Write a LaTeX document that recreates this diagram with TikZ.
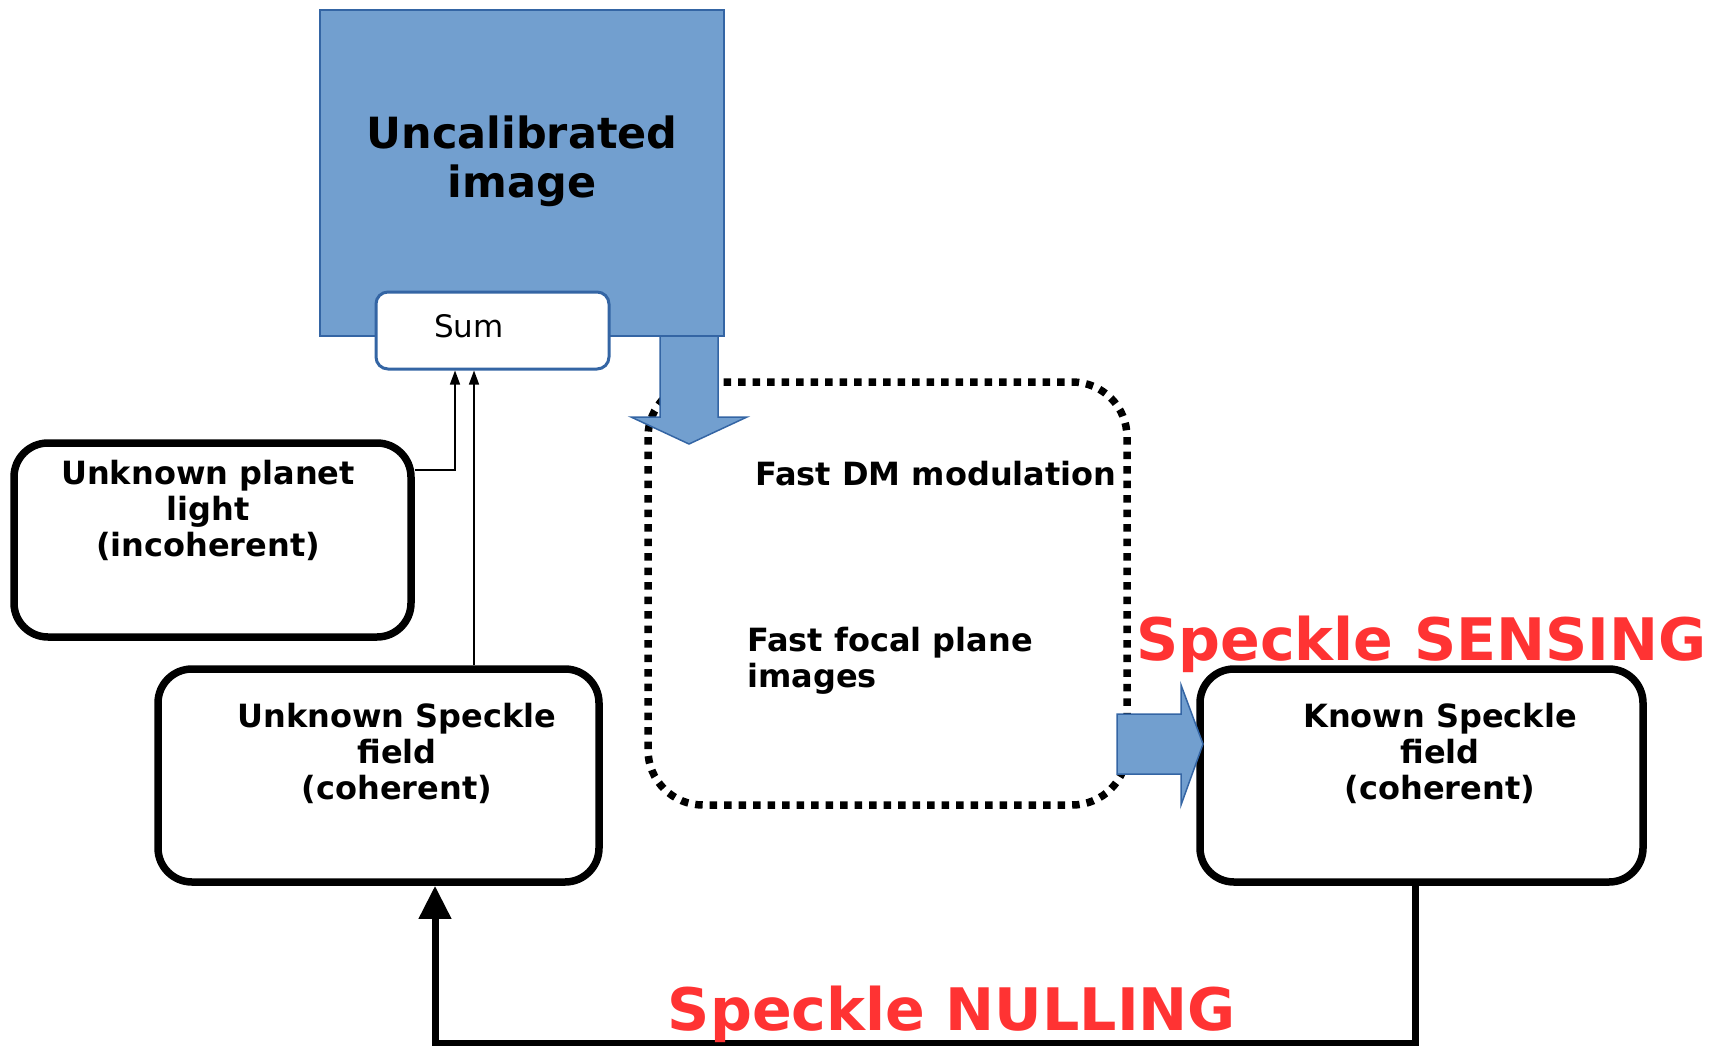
\documentclass[tikz,border=0pt]{standalone}
\usepackage{fontspec}
\setmainfont{DejaVu Sans}
\usepackage{xcolor}
\usetikzlibrary{arrows.meta, positioning, calc}
\definecolor{imgblue}{RGB}{114,159,207}
\definecolor{imgedge}{RGB}{52,101,164}
\definecolor{loopred}{RGB}{255,51,51}
\tikzset{
  fieldbox/.style={draw, line width=7.5pt, rounded corners=34pt, fill=white, inner sep=0pt},
  fieldtext/.style={font=\fontsize{32}{36}\selectfont\bfseries, align=center, anchor=north, inner sep=0pt},
  looptext/.style={font=\fontsize{32}{36}\selectfont\bfseries, align=left, inner sep=0pt},
  bigword/.style={font=\fontsize{58.6}{66}\selectfont\bfseries, text=loopred, inner sep=0pt},
  fatarrow/.style={fill=imgblue, draw=imgedge, line width=1.5pt, line join=miter},
  feed/.style={line width=1.5pt, -{Triangle[length=14pt,width=10pt]}},
}

\begin{document}
\begin{tikzpicture}[x=1pt, y=-1pt]
    \useasboundingbox (0,0) rectangle (1715,1046);

    % 快速调制回路
    \draw[line width=7.5pt, dash pattern=on 7.5pt off 7pt, rounded corners=55pt]
        (648,382) rectangle (1127,805);

    % 图像
    \node[fill=imgblue, draw=imgedge, line width=1.5pt, minimum width=404pt, minimum height=326pt, inner sep=0pt] (uncal) at (522,173) {};
    \node[font=\fontsize{43}{49}\selectfont\bfseries, align=center, inner sep=0pt] (uncaltext) at (522,161) {Uncalibrated\\image};
    \node[draw=imgedge, fill=white, line width=3pt, rounded corners=12pt, minimum width=233pt, minimum height=77pt, inner sep=0pt] (sum) at (492.5,330.5) {};
    \node[font=\fontsize{31}{36}\selectfont, inner sep=0pt] (sumtext) at (469,326) {Sum};
    \draw[fatarrow] (660,336) -- (660,417) -- (631,417) -- (689,444) -- (747,417) -- (718,417) -- (718,336) -- cycle;

    % 三个光场
    \node[fieldbox, minimum width=397pt, minimum height=194pt] (planet) at (212.5,540) {};
    \node[fieldbox, minimum width=441pt, minimum height=213pt] (unknown) at (378.5,775.5) {};
    \node[fieldbox, minimum width=443pt, minimum height=213pt] (known) at (1421.5,775.5) {};
    \node[fieldtext] (planettext) at ($(planet.north)+(-4.5,21)$) {Unknown planet\\light\\(incoherent)};
    \node[fieldtext] (unknowntext) at ($(unknown.north)+(18.5,38)$) {Unknown Speckle\\field\\(coherent)};
    \node[fieldtext] (knowntext) at ($(known.north)+(18.5,38)$) {Known Speckle\\field\\(coherent)};

    \draw[fatarrow] (1117,714) -- (1181,714) -- (1181,685) -- (1203,744) -- (1181,805) -- (1181,774) -- (1117,774) -- cycle;

    % 求和
    \draw[feed] ([yshift=70pt]planet.east) -| ([xshift=-37.5pt]sum.south);
    \draw[feed] ([xshift=95.5pt]unknown.north) -- ([xshift=-18.5pt]sum.south);

    % 文字
    \node[looptext, anchor=base west] (dmtext) at (755,485) {Fast DM modulation};
    \node[looptext, anchor=north west] (fptext) at (747,627) {Fast focal plane\\images};
    \node[bigword, anchor=base west] (sensing) at (1136,660) {Speckle SENSING};

    % 消除
    \draw[line width=7pt, -{Triangle[length=33pt,width=31pt]}]
        ([xshift=-6pt]known.south) -- ++(0,158) -| ([xshift=56.5pt]unknown.south);
    \node[bigword, anchor=base] (nulling) at (952,1030) {Speckle NULLING};
\end{tikzpicture}
\end{document}
